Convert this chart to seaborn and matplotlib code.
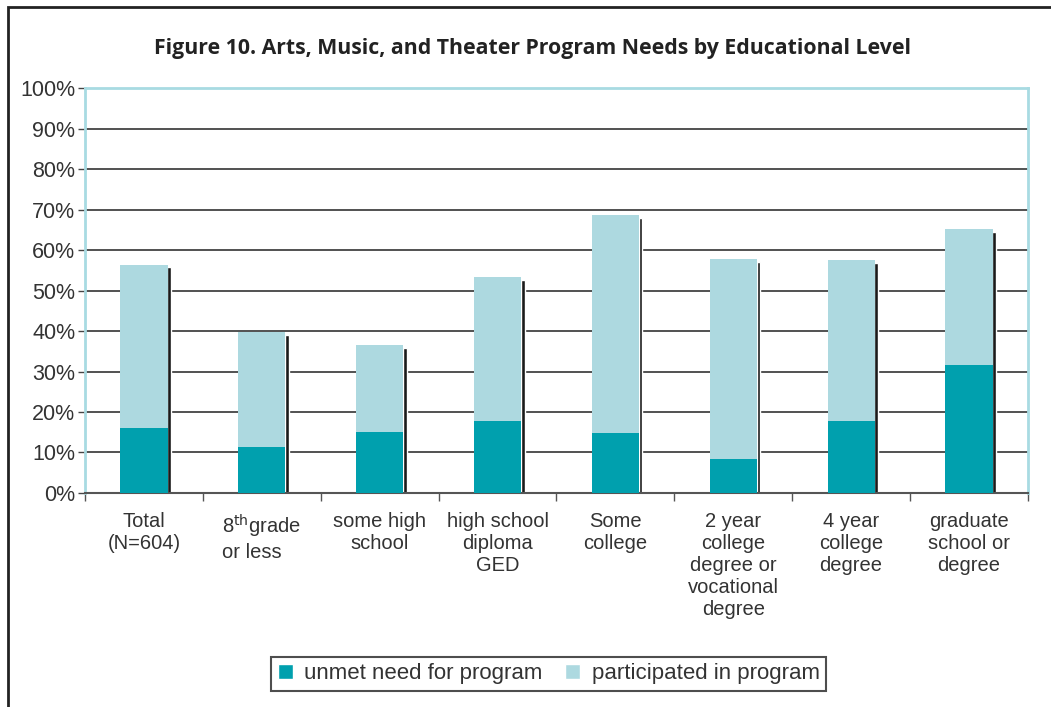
import matplotlib
matplotlib.use("Agg")
import matplotlib.pyplot as plt
from matplotlib.patches import Rectangle, Patch
import numpy as np
import pandas as pd
import seaborn as sns

categories = ["Total\n(N=604)", "8$^{\\mathrm{th}}$grade\nor less", "some high\nschool",
              "high school\ndiploma\nGED", "Some\ncollege", "2 year\ncollege\ndegree or\nvocational\ndegree",
              "4 year\ncollege\ndegree", "graduate\nschool or\ndegree"]
unmet_need = [16.0, 11.3, 15.0, 17.7, 14.8, 8.3, 17.7, 31.6]
participated = [40.4, 28.5, 21.6, 35.7, 53.9, 49.5, 39.9, 33.6]

TEAL = "#00a0ae"
LIGHT = "#add9e0"

df = pd.DataFrame({
    "category": categories,
    "unmet": unmet_need,
    "total": np.array(unmet_need) + np.array(participated),
})

sns.set_style("white")
plt.rcParams["font.family"] = ["Open Sans", "DejaVu Sans"]

fig = plt.figure(figsize=(10.51, 7.07), dpi=100)
ax = fig.add_axes([0.0809, 0.3027, 0.8971, 0.5728])

bar_w = 0.40
# drop shadow to the right of each bar
x = np.arange(len(categories))
ax.bar(x + bar_w / 2 + 0.014, df["total"] - 0.7, width=0.032, color="#1a1a1a", zorder=2)
sns.barplot(data=df, x="category", y="total", color=LIGHT, width=bar_w,
            saturation=1, linewidth=0, ax=ax, zorder=3)
sns.barplot(data=df, x="category", y="unmet", color=TEAL, width=bar_w,
            saturation=1, linewidth=0, ax=ax, zorder=4)

ax.set_ylim(0, 100)
ax.set_xlim(-0.5, len(categories) - 0.5)
ax.set_yticks(range(0, 101, 10))
ax.set_yticklabels([f"{v}%" for v in range(0, 101, 10)], fontsize=15.5, color="#333333",
                   family=["Liberation Sans", "DejaVu Sans"])
ax.yaxis.grid(True, color="#333333", linewidth=1.2, zorder=0)
ax.set_axisbelow(True)
ax.set_xlabel("")
ax.set_ylabel("")

ax.set_xticks(x)
ax.set_xticklabels(categories, fontsize=14.5, color="#333333", linespacing=1.2, va="top",
                   family=["Liberation Sans", "DejaVu Sans"])
ax.get_xticklabels()[1].set_multialignment("left")
ax.tick_params(axis="x", length=0, pad=14)
ax.tick_params(axis="y", length=5, left=True, color="#444444", width=1, pad=2)
# ticks at category boundaries
ax.set_xticks(np.arange(-0.5, len(categories), 1), minor=True)
ax.tick_params(axis="x", which="minor", length=6, bottom=True, color="#555555", width=1)

for side in ["top", "right", "left"]:
    ax.spines[side].set_color("#a8dbe2")
    ax.spines[side].set_linewidth(2)
ax.spines["bottom"].set_color("#555555")
ax.spines["bottom"].set_linewidth(1.5)

fig.text(0.507, 0.932, "Figure 10. Arts, Music, and Theater Program Needs by Educational Level",
         ha="center", va="center", fontsize=15.3, fontweight="bold", color="#222222")

handles = [Patch(facecolor=TEAL, label="unmet need for program"),
           Patch(facecolor=LIGHT, label="participated in program")]
leg = fig.legend(handles=handles, loc="center", bbox_to_anchor=(0.522, 0.047), ncol=2,
                 prop={"family": ["Liberation Sans", "DejaVu Sans"], "size": 16},
                 frameon=True, fancybox=False, handlelength=0.7, handleheight=0.7,
                 columnspacing=1.0, handletextpad=0.5, borderpad=0.3, borderaxespad=0)
leg.get_frame().set_edgecolor("#222222")
leg.get_frame().set_linewidth(1.5)
for t in leg.get_texts():
    t.set_color("#333333")

# outer frame
fig.patches.append(Rectangle((8 / 1051, -0.1), 1.2, (700 / 707) + 0.1, transform=fig.transFigure,
                             fill=False, edgecolor="#222222", linewidth=2))

fig.savefig("out.png", dpi=100)
